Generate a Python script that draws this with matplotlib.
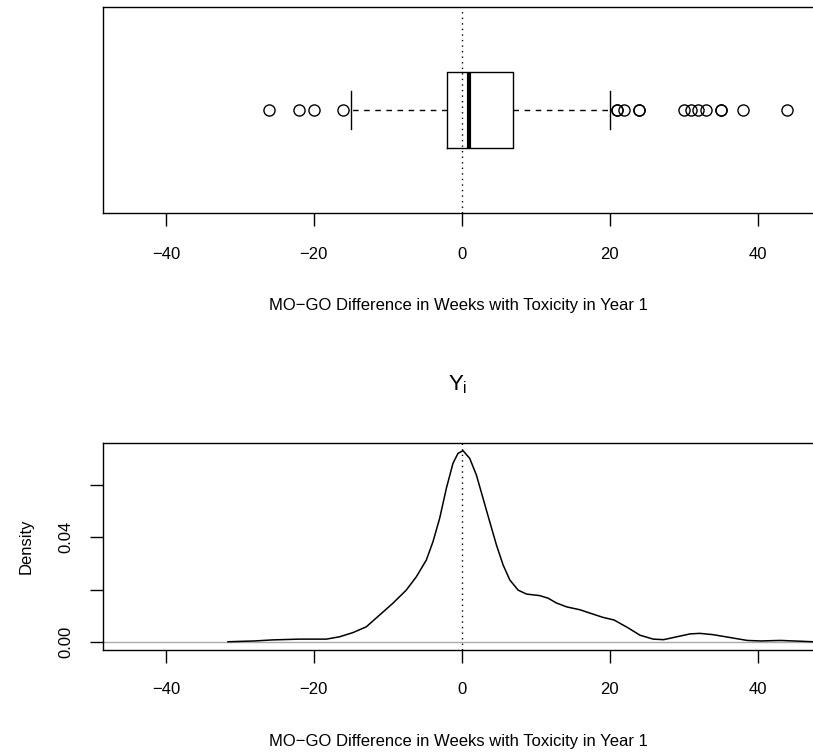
import matplotlib
matplotlib.use("Agg")
import matplotlib.pyplot as plt

plt.rcParams["font.family"] = ["Liberation Sans", "DejaVu Sans"]
plt.rcParams["mathtext.fontset"] = "custom"
plt.rcParams["mathtext.rm"] = "Liberation Sans"
plt.rcParams["mathtext.it"] = "Liberation Sans"

# box summary (weeks)
q1, median, q3 = -2, 1, 7
whisker_lo, whisker_hi = -15, 20
outliers = [-26, -22, -20, -16, 21, 21, 22, 24, 24, 30, 31, 32, 33, 35, 35, 38, 44]

# density estimate
dens_x = [-31.6, -28.0, -25.6, -21.9, -18.3, -16.5, -14.7, -12.9, -11.1, -9.3, -7.5,
          -6.13, -4.78, -3.88, -2.98, -2.07, -1.18, -0.5, 0.18, 1.08, 1.99, 2.89,
          3.79, 4.70, 5.6, 6.5, 7.63, 8.76, 10.56, 11.7, 12.8, 14.2, 16.0, 17.8,
          19.1, 20.6, 22.5, 24.1, 25.9, 27.3, 29.1, 30.9, 32.2, 34.0, 36.3, 38.6,
          40.4, 43.1, 44.9, 47.5]
dens_y = [0.0001, 0.0004, 0.0008, 0.0011, 0.0011, 0.0020, 0.0036, 0.0058, 0.0103,
          0.0148, 0.0198, 0.0249, 0.0313, 0.0383, 0.0472, 0.0587, 0.0682, 0.0720,
          0.0730, 0.0701, 0.0637, 0.0548, 0.0459, 0.0370, 0.0294, 0.0237, 0.0198,
          0.0183, 0.0177, 0.0167, 0.0149, 0.0134, 0.0123, 0.0106, 0.0094, 0.0084,
          0.0054, 0.0026, 0.0011, 0.0009, 0.0020, 0.0031, 0.0033, 0.0028, 0.0017,
          0.0006, 0.0004, 0.0006, 0.0004, 0.0001]

xticks = [-40, -20, 0, 20, 40]
xlabel = "MO\u2212GO Difference in Weeks with Toxicity in Year 1"
xlim = (-48.5, 47.5)

W, H = 813, 752
fig = plt.figure(figsize=(W / 100, H / 100), dpi=100)

def style_x(ax, pad):
    ax.set_xlim(*xlim)
    ax.set_xticks(xticks)
    ax.set_xticklabels([f"{t:d}".replace("-", "\u2212") for t in xticks])
    ax.tick_params(axis="x", direction="out", length=9.4, width=1, pad=pad, labelsize=12)
    ax.set_xlabel(xlabel, fontsize=12, labelpad=26)
    ax.spines["right"].set_visible(False)
    for s in ax.spines.values():
        s.set_linewidth(1.0)

# ---- top: boxplot ----
ax1 = fig.add_axes([103 / W, 1 - 213 / H, 1 - 103 / W, 206 / H])
stats = [dict(med=median, q1=q1, q3=q3, whislo=whisker_lo, whishi=whisker_hi,
              fliers=outliers)]
ax1.bxp(stats, positions=[1], widths=0.4, vert=False, showfliers=True,
        boxprops=dict(color="black", linewidth=1.0),
        medianprops=dict(color="black", linewidth=3.0, solid_capstyle="butt"),
        whiskerprops=dict(color="black", linewidth=1.0, linestyle=(0, (4, 4))),
        capprops=dict(color="black", linewidth=1.0),
        capwidths=0.2,
        flierprops=dict(marker="o", markersize=8, markerfacecolor="none",
                        markeredgecolor="black", markeredgewidth=1.0))
ax1.axvline(0, color="black", linestyle=(0, (1, 3)), linewidth=1.0, zorder=0)
ax1.set_ylim(0.46, 1.54)
ax1.set_yticks([])
style_x(ax1, pad=15.2)

# ---- bottom: density ----
ax2 = fig.add_axes([103 / W, 1 - 650 / H, 1 - 103 / W, 207 / H])
ax2.axhline(0, color="#aaaaaa", linewidth=1.0, zorder=1)
ax2.plot(dens_x, dens_y, color="black", linewidth=1.1, zorder=2)
ax2.axvline(0, color="black", linestyle=(0, (1, 3)), linewidth=1.0, zorder=0)
ax2.set_ylim(-0.00305, 0.07595)
ax2.set_yticks([0.0, 0.02, 0.04, 0.06])
ax2.set_yticklabels(["0.00", "", "0.04", ""], rotation=90, va="center")
ax2.tick_params(axis="y", direction="out", length=9.4, width=1, pad=12, labelsize=12)
ax2.set_ylabel("Density", fontsize=12, labelpad=18)
ax2.set_title("$Y_\\mathrm{i}$", fontsize=16, pad=38)
style_x(ax2, pad=14.0)

fig.savefig("out.png", dpi=100)
